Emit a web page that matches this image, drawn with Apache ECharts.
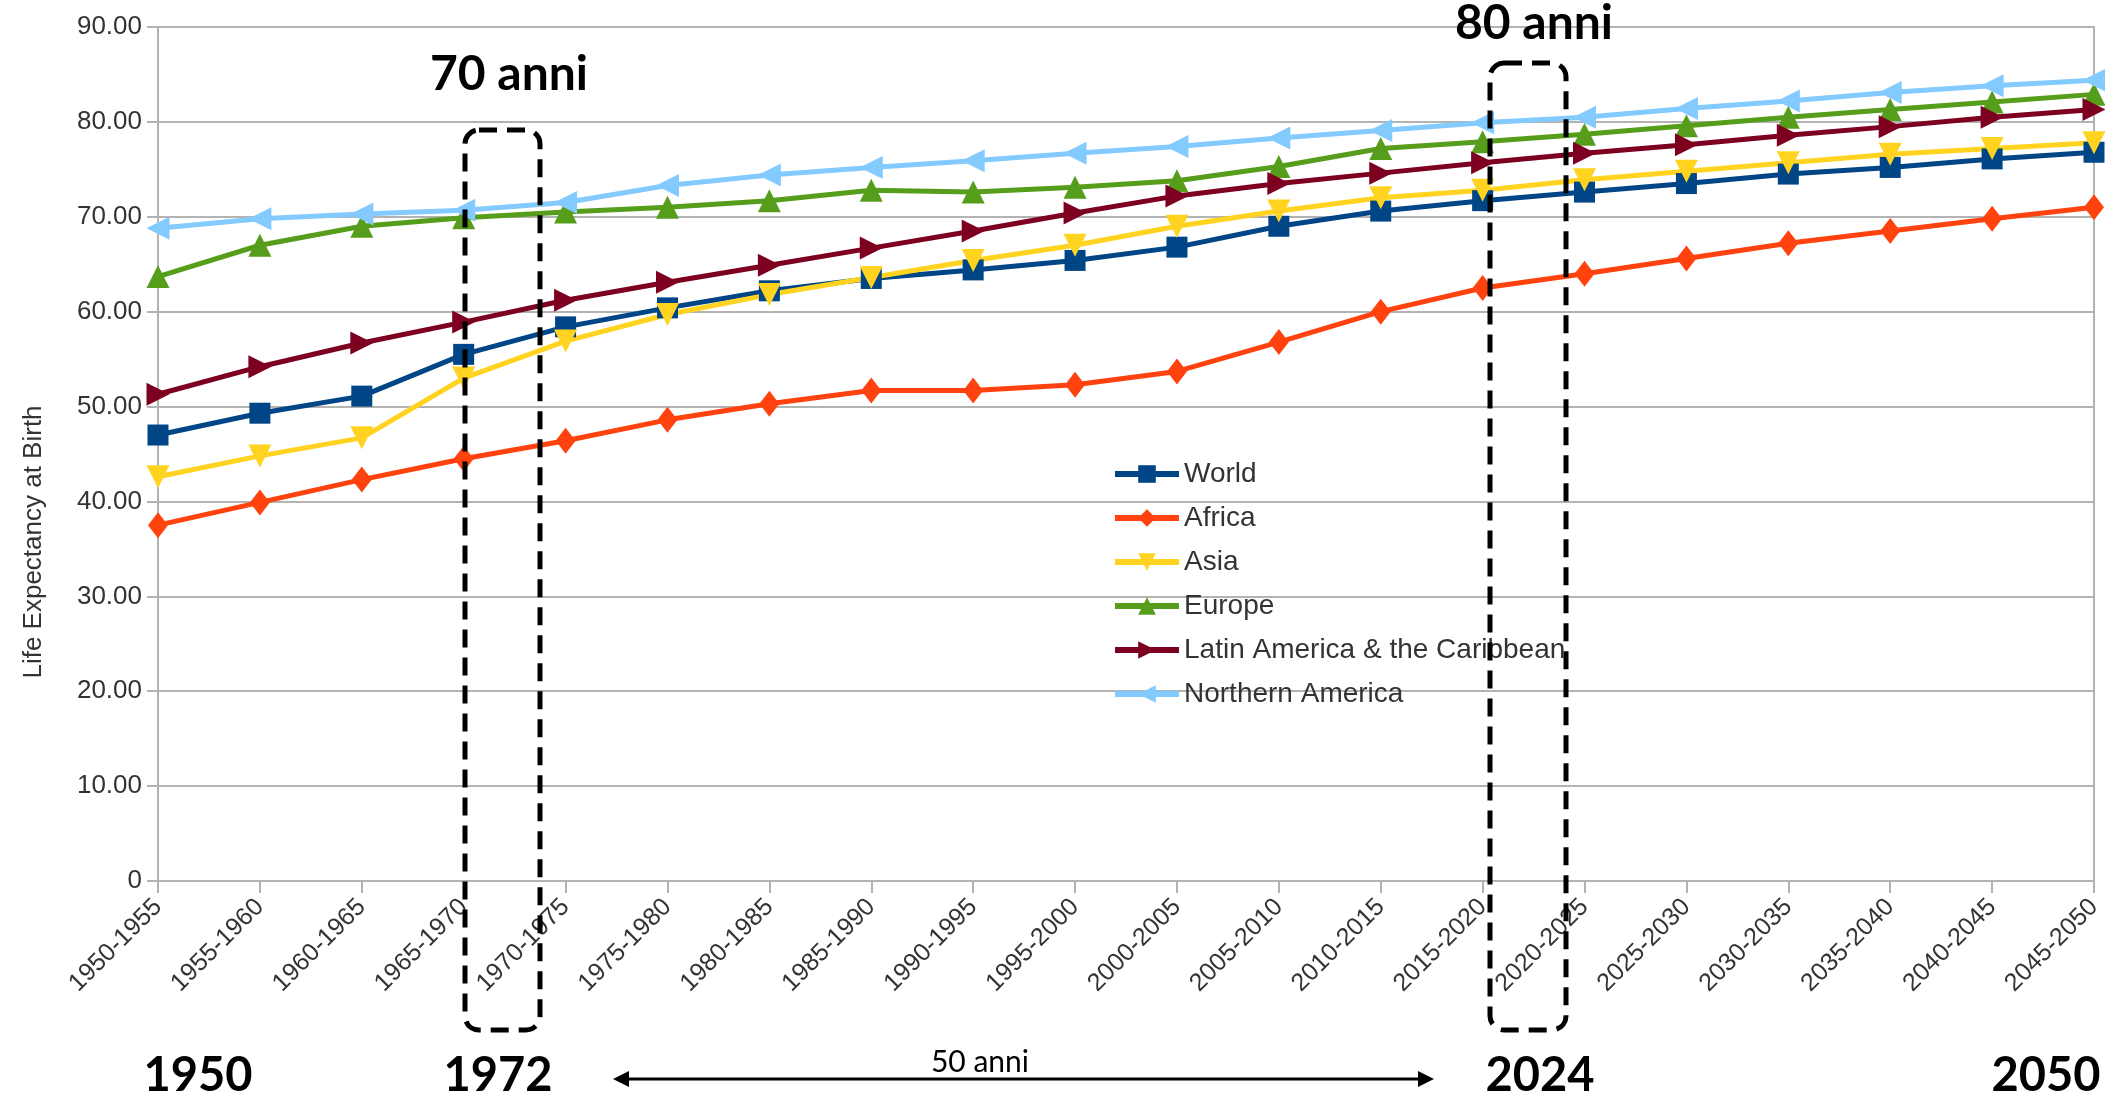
<!DOCTYPE html>
<html>
<head>
<meta charset="utf-8">
<title>Life Expectancy at Birth</title>
<script src="https://cdn.jsdelivr.net/npm/echarts@6/dist/echarts.min.js"></script>
<style>
  html, body { margin: 0; padding: 0; background: #ffffff; }
  #chart { width: 2105px; height: 1097px; }
</style>
</head>
<body>
<div id="chart"></div>
<script>
// Five-year periods on the category axis
const periods = [
  '1950-1955', '1955-1960', '1960-1965', '1965-1970', '1970-1975',
  '1975-1980', '1980-1985', '1985-1990', '1990-1995', '1995-2000',
  '2000-2005', '2005-2010', '2010-2015', '2015-2020', '2020-2025',
  '2025-2030', '2030-2035', '2035-2040', '2040-2045', '2045-2050'
];

// Life expectancy at birth (years) by region
const world  = [47.0, 49.3, 51.1, 55.5, 58.4, 60.4, 62.2, 63.5, 64.4, 65.4, 66.8, 69.0, 70.6, 71.7, 72.6, 73.5, 74.5, 75.2, 76.1, 76.8];
const africa = [37.5, 39.9, 42.3, 44.5, 46.4, 48.6, 50.3, 51.7, 51.7, 52.3, 53.7, 56.8, 60.0, 62.5, 64.0, 65.6, 67.2, 68.5, 69.8, 71.0];
const asia   = [42.6, 44.8, 46.7, 53.0, 56.9, 59.7, 61.8, 63.6, 65.4, 67.0, 69.0, 70.6, 72.0, 72.8, 73.9, 74.8, 75.7, 76.6, 77.2, 77.8];
const europe = [63.7, 67.0, 69.0, 69.9, 70.5, 71.0, 71.7, 72.8, 72.6, 73.1, 73.8, 75.3, 77.2, 77.9, 78.7, 79.6, 80.5, 81.3, 82.1, 82.9];
const latam  = [51.3, 54.2, 56.7, 58.9, 61.2, 63.1, 64.9, 66.7, 68.5, 70.4, 72.2, 73.5, 74.6, 75.7, 76.7, 77.6, 78.6, 79.5, 80.5, 81.3];
const northAmerica = [68.8, 69.8, 70.3, 70.7, 71.5, 73.3, 74.4, 75.2, 75.9, 76.7, 77.4, 78.3, 79.1, 79.9, 80.5, 81.4, 82.2, 83.1, 83.8, 84.4];

// Value axis range
const yMin = 0, yMax = 90, yStep = 10;

// Year markers written under the axis
const yearMarks = ['1950', '1972', '2024', '2050'];

const GRID = '#b3b3b3';
const TEXT = '#333333';
const SANS = '"Liberation Sans", Arial, sans-serif';
const BOLD = 'Lato, "Open Sans", sans-serif';

function regionLine(name, data, color, symbol, rotate, size) {
  return {
    name: name,
    type: 'line',
    data: data,
    symbol: symbol,
    symbolRotate: rotate,
    symbolSize: size,
    showSymbol: true,
    lineStyle: { width: 5, color: color },
    itemStyle: { color: color },
    emphasis: { disabled: true },
    animation: false
  };
}

const chart = echarts.init(document.getElementById('chart'), null, { renderer: 'canvas' });

// Dashed rounded frame used to highlight a period
function dashedFrame(x1, y1, x2, y2) {
  return {
    type: 'rect',
    z: 100,
    shape: { x: x1, y: y1, width: x2 - x1, height: y2 - y1, r: 14 },
    style: { fill: 'none', stroke: '#000', lineWidth: 5, lineDash: [18, 10] }
  };
}

function boldLabel(text, x, y, size) {
  return {
    type: 'text', z: 100, x: x, y: y,
    style: {
      text: text, fill: '#000', font: 'bold ' + size + 'px ' + BOLD,
      align: 'center', verticalAlign: 'middle'
    }
  };
}

const arrowY = 1079, arrowL = 613, arrowR = 1434;

chart.setOption({
  backgroundColor: '#ffffff',
  animation: false,
  grid: {
    left: 158, right: 11, top: 27, bottom: 216,
    show: true, borderColor: GRID, borderWidth: 2, backgroundColor: 'transparent'
  },
  legend: {
    orient: 'vertical',
    left: 1107, top: 455,
    itemWidth: 64, itemHeight: 22, itemGap: 16,
    lineStyle: { width: 6 },
    textStyle: { color: TEXT, fontSize: 28, fontFamily: SANS },
    data: ['World', 'Africa', 'Asia', 'Europe', 'Latin America & the Caribbean', 'Northern America']
  },
  xAxis: {
    type: 'category',
    data: periods,
    boundaryGap: false,
    axisLine: { lineStyle: { color: GRID, width: 2 } },
    axisTick: { show: true, alignWithLabel: true, length: 12, lineStyle: { color: GRID, width: 2 } },
    axisLabel: {
      rotate: 45, interval: 0, margin: 22,
      color: TEXT, fontSize: 25, fontFamily: SANS
    },
    splitLine: { show: false }
  },
  yAxis: {
    type: 'value',
    min: yMin, max: yMax, interval: yStep,
    axisLine: { show: true, lineStyle: { color: GRID, width: 2 } },
    axisTick: { show: true, length: 11, lineStyle: { color: GRID, width: 2 } },
    axisLabel: {
      margin: 16, color: TEXT, fontSize: 26, fontFamily: SANS,
      formatter: function (v) { return v === 0 ? '0' : v.toFixed(2); }
    },
    splitLine: { show: true, lineStyle: { color: GRID, width: 2 } }
  },
  series: [
    regionLine('World', world, '#004586', 'rect', 0, 21),
    regionLine('Africa', africa, '#ff420e', 'diamond', 0, [20, 26]),
    regionLine('Asia', asia, '#ffd320', 'triangle', 180, 23),
    regionLine('Europe', europe, '#579d1c', 'triangle', 0, 23),
    regionLine('Latin America & the Caribbean', latam, '#7e0021', 'triangle', -90, 23),
    regionLine('Northern America', northAmerica, '#83caff', 'triangle', 90, 23)
  ],
  graphic: [
    // y-axis title
    {
      type: 'text', x: 34, y: 542, rotation: Math.PI / 2,
      style: {
        text: 'Life Expectancy at Birth', fill: TEXT,
        font: '26px ' + SANS, align: 'center', verticalAlign: 'middle'
      }
    },
    // highlighted periods
    dashedFrame(465, 130, 540, 1030),
    dashedFrame(1490, 63, 1566, 1030),
    boldLabel('70 anni', 509, 75, 48),
    boldLabel('80 anni', 1534, 24, 48),
    // years below the axis
    boldLabel(yearMarks[0], 198, 1076, 47),
    boldLabel(yearMarks[1], 498, 1076, 47),
    boldLabel(yearMarks[2], 1540, 1076, 47),
    boldLabel(yearMarks[3], 2046, 1076, 47),
    // double arrow spanning 50 years
    {
      type: 'line', z: 100,
      shape: { x1: arrowL + 12, y1: arrowY, x2: arrowR - 12, y2: arrowY },
      style: { stroke: '#000', lineWidth: 3 }
    },
    {
      type: 'polygon', z: 100,
      shape: { points: [[arrowL, arrowY], [arrowL + 16, arrowY - 8], [arrowL + 16, arrowY + 8]] },
      style: { fill: '#000' }
    },
    {
      type: 'polygon', z: 100,
      shape: { points: [[arrowR, arrowY], [arrowR - 16, arrowY - 8], [arrowR - 16, arrowY + 8]] },
      style: { fill: '#000' }
    },
    {
      type: 'text', z: 100, x: 980, y: 1062,
      style: {
        text: '50 anni', fill: '#000', font: '30px ' + BOLD,
        align: 'center', verticalAlign: 'middle'
      }
    }
  ]
});
</script>
</body>
</html>
